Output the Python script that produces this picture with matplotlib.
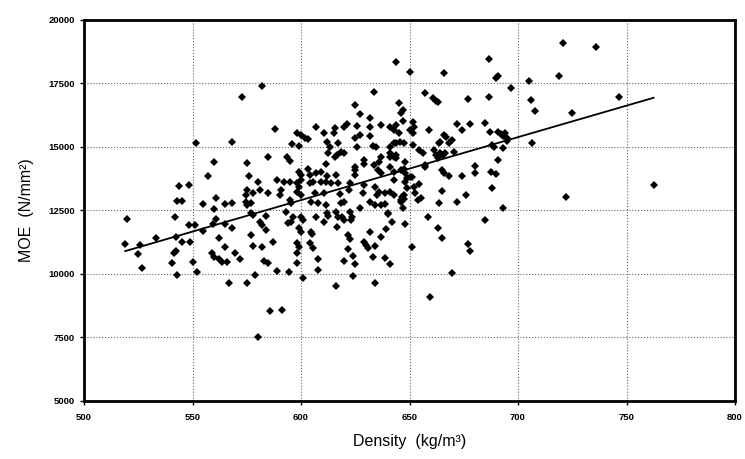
import numpy as np
import matplotlib
matplotlib.use("Agg")
import matplotlib.pyplot as plt

# density (kg/m3) and MOE (N/mm2)
density = [
    572.7, 551.7, 568, 560, 575, 557, 576, 544, 548.5, 575, 543, 545, 555, 561, 565, 568, 574.5, 575, 560,
    519.7, 542, 548.5, 551, 559.5, 561, 565, 568, 555, 533, 542.5, 519, 526, 545, 549, 562, 565, 525,
    542.5, 541.6, 559, 560, 562, 563.5, 569.5, 572, 566, 550, 540.7, 526.5, 543, 552, 567, 575,
    644, 582, 633.5, 625, 645, 627, 646, 647, 632, 588, 607, 610.7, 615.7, 615, 620, 621, 626, 632,
    636.7, 641, 643, 644, 598, 600, 602, 603, 625, 627, 632, 596, 599, 612, 613.4, 617, 625.8, 633,
    634.4, 641, 642.7, 644, 645.4, 584.6, 593.7, 595, 612.5, 615.7, 616.6, 618.4, 620, 629, 629, 637,
    636, 641, 642.7, 644, 611.6, 624.8, 633.5, 641, 599, 600, 600, 603, 604, 607, 609, 612, 616, 625,
    625, 635.4, 637, 643, 646, 580, 589, 592, 595, 598, 599, 604, 605.6, 609, 611.6, 614, 617, 622.6,
    622, 629, 634, 636, 635, 578, 574.5, 581, 585, 591, 590.5, 598, 600, 606.5, 610.7, 618, 628.5,
    638.6, 640.8, 577, 595, 595.6, 604.7, 608, 611.6, 618.4, 620, 632, 634, 638.6, 646,
    577, 578, 581, 581.8, 583.7, 593, 596.5, 595.6, 594, 600, 601, 599, 600, 607, 604.7, 605, 604,
    612, 612.5, 610.7, 616, 617, 619, 620, 616.6, 622.6, 623.5, 623, 627, 621.6, 622.6, 621.6, 629,
    630, 631, 632, 634, 624, 620, 625, 624, 616, 634, 608, 608, 605.6, 598, 599, 598, 598, 601, 594.6,
    589, 583, 584.6, 587, 582, 577.7, 577, 584, 579,
    585.5, 591.4, 580, 637, 646, 647, 640, 642, 647.7, 639, 637, 633, 638.6, 641,
    657, 661, 662, 663, 677, 686.6, 697, 647, 645, 651.8, 650, 651.5, 652, 659, 672, 674, 678, 685,
    687, 691, 692, 693, 694, 695, 641, 648, 647.6, 651.8, 654.6, 656, 663.4, 664, 666, 667, 668,
    661.4, 662, 663, 664, 665.5, 666.5, 669.7, 670.6, 657, 657.3, 665, 666, 668, 674, 680, 680, 687.5,
    690, 691, 688, 689, 693, 647.6, 648, 648, 649, 650, 651, 649, 652, 652.6, 654.6, 646.5, 647.6,
    647.6, 643, 655.5, 665, 663.4, 672, 676, 688, 693, 658.7, 663, 665, 685, 651, 677, 678, 669.7,
    640, 643, 643.7,
    686.6, 666, 650, 691, 690, 705, 719, 706, 708, 695, 706.6,
    720.6, 736, 746.5, 725, 762.5, 722, 654, 659.6,
]
moe = [
    16969, 15157, 15197, 14410, 14370, 13858, 13858, 13465, 13504, 13307, 12874, 12874, 12756, 12992, 12756, 12795, 12835, 12717, 12559,
    12165, 12244, 11929, 11929, 11968, 12165, 11968, 11811, 11693, 11417, 11457, 11181, 11142, 11260, 11260, 11417, 11063, 10787,
    10906, 10827, 10827, 10669, 10590, 10473, 10827, 10590, 10473, 10480, 10433, 10236, 9961, 10079, 9646, 9646,
    18346, 17402, 17165, 16653, 16732, 16299, 16339, 16457, 16142, 15709, 15787, 15551, 15748, 15551, 15787, 15906, 15827, 15787,
    15866, 15787, 15670, 15866, 15551, 15472, 15354, 15315, 15354, 15472, 15433, 15118, 15039, 15197, 15000, 15157, 15000, 15039,
    15000, 15000, 15157, 15157, 15197, 14606, 14606, 14449, 14764, 14606, 14685, 14803, 14764, 14488, 14331, 14606,
    14410, 14606, 14606, 14685, 14331, 14213, 14291, 14213, 14016, 13898, 13701, 14134, 13898, 13976, 14016, 13858, 13898, 14094,
    13898, 14094, 13976, 14016, 14094, 13622, 13701, 13622, 13622, 13583, 13425, 13583, 13622, 13622, 13622, 13583, 13583, 13583,
    13307, 13504, 13425, 13228, 13110, 13189, 13110, 13307, 13189, 13307, 13110, 13228, 13110, 13189, 13189, 13150, 13189,
    13189, 13228, 12795, 12913, 12795, 12835, 12795, 12717, 12795, 12835, 12835, 12717, 12756, 12835,
    12402, 12323, 12047, 11929, 12283, 12441, 12244, 12047, 12008, 12244, 12126, 11811, 11654, 12244, 11654, 11575, 11220,
    12402, 12283, 12047, 12441, 12244, 12244, 12126, 11850, 12441, 12244, 12126, 12598, 11535, 11378, 10984, 11260,
    11142, 11024, 11654, 11102, 10709, 10512, 10394, 9921, 9528, 9646, 10591, 10158, 11024, 11220, 11063, 10827, 10433, 9843, 10079,
    10118, 10512, 10433, 11260, 11063, 11102, 11535, 11732, 9961,
    8543, 8583, 7520, 12717, 12913, 12598, 12362, 12047, 11968, 11772, 11457, 10669, 10630, 10394,
    17126, 16929, 16811, 16772, 16890, 16969, 17323, 16024, 15551, 15984, 15669, 15551, 15787, 15669, 15906, 15669, 15906, 15945,
    15590, 15590, 15512, 15433, 15551, 15354, 14764, 14410, 15157, 15079, 14882, 14764, 15157, 15197, 15472, 15394, 15157,
    14882, 14685, 14567, 14764, 14685, 14764, 15276, 14803, 14291, 14213, 14094, 13976, 13858, 13858, 14252, 13976, 14016,
    13937, 14488, 15079, 15000, 14961, 14134, 13976, 13622, 13779, 13819, 13819, 13386, 13425, 13189, 13543, 13031, 12953,
    13110, 13110, 12992, 13268, 12795, 12835, 13110, 13386, 12598, 12244, 11811, 11417, 12126, 11063, 11181, 10906, 10040,
    12402, 13701, 14567,
    18465, 17913, 17953, 17795, 17717, 17598, 17795, 16850, 16417, 15236, 15157,
    19094, 18953, 16969, 16339, 13504, 13031, 12913, 9094,
]

x = np.array(density)
y = np.array(moe)
slope, intercept = np.polyfit(x, y, 1)
xl = np.array([x.min(), x.max()])

plt.rcParams['font.family'] = ['Liberation Sans', 'DejaVu Sans']

fig = plt.figure(figsize=(7.45, 4.59), dpi=100)
ax = fig.add_axes([84 / 745, 1 - 401 / 459, 651 / 745, 381 / 459])

ax.plot(x, y, 'D', color='black', markersize=3.6, markeredgewidth=0)
ax.plot(xl, slope * xl + intercept, color='black', lw=1.3)

ax.set_xlim(500, 800)
ax.set_ylim(5000, 20000)
ax.set_xticks(range(500, 801, 50))
ax.set_yticks(range(5000, 20001, 2500))
ax.grid(True, linestyle=':', color='0.4', lw=0.8)
ax.set_axisbelow(True)
for s in ax.spines.values():
    s.set_linewidth(2)
ax.tick_params(labelsize=6.8, length=3, width=1, direction='out')
ax.tick_params(axis='x', pad=6)
for t in ax.get_xticklabels() + ax.get_yticklabels():
    t.set_fontweight('bold')

ax.set_xlabel('Density  (kg/m³)', fontsize=11.5, labelpad=8)
ax.set_ylabel('MOE  (N/mm²)', fontsize=11.5, labelpad=10)

fig.savefig('out.png', dpi=100)
